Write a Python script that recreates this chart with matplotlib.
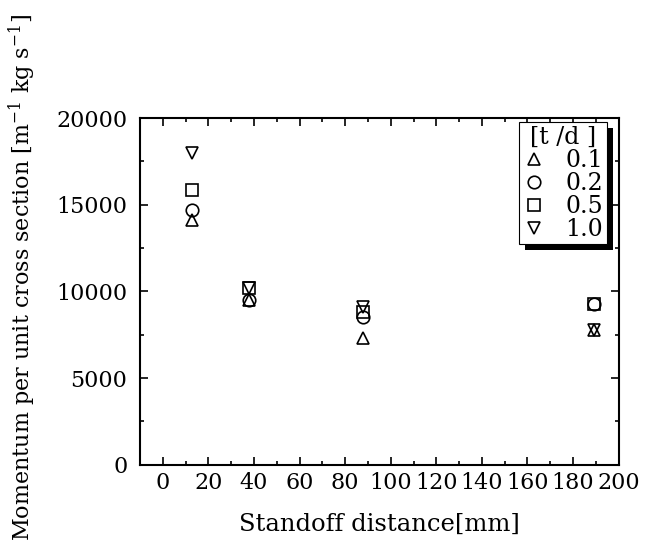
import numpy as np
import matplotlib.pyplot as plt
from matplotlib.ticker import MultipleLocator
from matplotlib.patches import Rectangle
from matplotlib.transforms import IdentityTransform

plt.rcParams['font.family'] = ['DejaVu Serif']
plt.rcParams['mathtext.fontset'] = 'dejavuserif'

# standoff distance [mm]
distance = [13, 38, 88, 189]

# momentum per unit cross section, one list per t/d
td_01 = [14100, 9500, 7300, 7800]
td_02 = [14700, 9500, 8500, 9300]
td_05 = [15850, 10200, 8800, 9300]
td_10 = [18000, 10200, 9100, 7800]

series = [('0.1', td_01, '^'), ('0.2', td_02, 'o'),
          ('0.5', td_05, 's'), ('1.0', td_10, 'v')]

fig = plt.figure(figsize=(6.54, 5.6), dpi=100)
ax = fig.add_axes([0.214, 0.170, 0.732, 0.619])

for label, vals, mk in series:
    ax.plot(distance, vals, linestyle='none', marker=mk, markersize=9,
            markerfacecolor='none', markeredgecolor='black',
            markeredgewidth=1.2, label=label)

ax.set_xlim(-10, 200)
ax.set_ylim(0, 20000)
ax.xaxis.set_major_locator(MultipleLocator(20))
ax.xaxis.set_minor_locator(MultipleLocator(10))
ax.yaxis.set_major_locator(MultipleLocator(5000))
ax.yaxis.set_minor_locator(MultipleLocator(2500))
ax.tick_params(which='both', direction='in', top=True, right=True,
               labelsize=16, width=1.2, colors='black')
ax.tick_params(which='major', length=6)
ax.tick_params(which='minor', length=3)
ax.tick_params(axis='x', which='major', pad=5)
ax.tick_params(axis='y', which='major', pad=9)
for s in ax.spines.values():
    s.set_linewidth(1.5)

ax.set_xlabel('Standoff distance[mm]', fontsize=17.5, labelpad=14)
ax.set_ylabel('Momentum per unit cross section [m$^{\\mathregular{-1}}$ kg s$^{\\mathregular{-1}}$]',
              fontsize=16)
ax.yaxis.set_label_coords(-0.212, 0.54)

leg = ax.legend(title='[t /d ]', loc='upper right',
                bbox_to_anchor=(0.975, 0.988), fontsize=17,
                title_fontsize=17, frameon=True, fancybox=False,
                framealpha=1, borderpad=0.15, labelspacing=0.0,
                handlelength=0.9, handletextpad=0.9, borderaxespad=0)
leg.get_frame().set_edgecolor('black')
leg.get_frame().set_linewidth(0.8)
leg.set_zorder(6)

# thick black drop shadow behind the legend box
fig.canvas.draw()
bb = leg.get_window_extent()
shadow = Rectangle((bb.x0 + 6, bb.y0 - 6), bb.width, bb.height,
                   transform=IdentityTransform(), facecolor='black',
                   edgecolor='none', zorder=5.5, clip_on=False)
ax.add_artist(shadow)

fig.savefig('out.png', dpi=100)
